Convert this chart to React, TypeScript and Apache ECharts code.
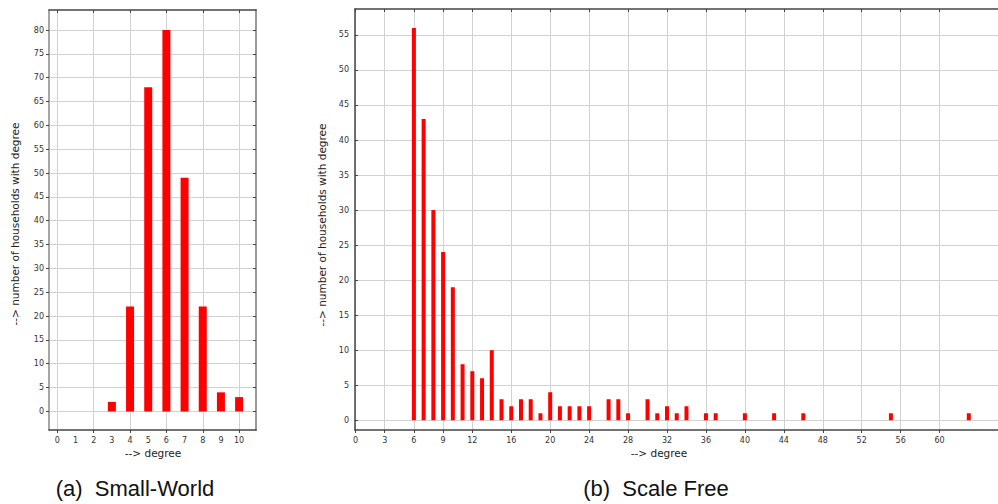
import React, { useEffect, useRef } from "react";
import * as echarts from "echarts";

const swDegrees = [3, 4, 5, 6, 7, 8, 9, 10];
const swCounts = [2, 22, 68, 80, 49, 22, 4, 3];
const sfDegrees = [6, 7, 8, 9, 10, 11, 12, 13, 14, 15, 16, 17, 18, 19, 20, 21, 22, 23, 24, 26, 27, 28, 30, 31, 32, 33, 34, 36, 37, 40, 43, 46, 55, 63];
const sfCounts = [56, 43, 30, 24, 19, 8, 7, 6, 10, 3, 2, 3, 3, 1, 4, 2, 2, 2, 2, 3, 3, 1, 3, 1, 2, 1, 2, 1, 1, 1, 1, 1, 1, 1];

const swXLabels = [0, 1, 2, 3, 4, 5, 6, 7, 8, 9, 10];
const swXTicks = [0, 2, 4, 6, 8, 10];
const swYTicks = [0, 5, 10, 15, 20, 25, 30, 35, 40, 45, 50, 55, 60, 65, 70, 75, 80];
const sfXTicks = [0, 3, 6, 9, 12, 16, 20, 24, 28, 32, 36, 40, 44, 48, 52, 56, 60];
const sfYTicks = [0, 5, 10, 15, 20, 25, 30, 35, 40, 45, 50, 55];

const yName = "--> number of households with degree";
const xName = "--> degree";
const captionA = "(a)  Small-World";
const captionB = "(b)  Scale Free";

const FONT = "DejaVu Sans";
const gridColor = "#d2d2d2";

export default function App() {
  const ref = useRef<HTMLDivElement>(null);
  useEffect(() => {
    if (!ref.current) return;
    const chart = echarts.init(ref.current, undefined, { renderer: "svg" });
    const label = { fontFamily: FONT, fontSize: 8, color: "#333" };
    const option: any = {
      animation: false,
      backgroundColor: "#fff",
      grid: [
        { left: 49, top: 10, width: 207, height: 420 },
        { left: 355, top: 9, width: 643, height: 421 },
      ],
      xAxis: [
        {
          type: "value", gridIndex: 0, min: -0.46, max: 10.93, position: "bottom",
          axisLine: { show: true, onZero: false, lineStyle: { color: "#444", width: 1.5 } },
          axisTick: { show: true, customValues: swXTicks, length: 3, lineStyle: { color: "#444" } },
          axisLabel: { ...label, customValues: swXLabels, margin: 6 },
          splitLine: { show: true, lineStyle: { color: gridColor, width: 1 } },
        },
        {
          type: "value", gridIndex: 0, min: -0.46, max: 10.93, position: "top",
          axisLine: { show: true, onZero: false, lineStyle: { color: "#444", width: 1.5 } },
          axisTick: { show: true, inside: true, customValues: swXTicks, length: 3, lineStyle: { color: "#444" } },
          axisLabel: { show: false },
          splitLine: { show: false },
        },
        {
          type: "value", gridIndex: 1, min: -0.05, max: 66, position: "bottom",
          axisLine: { show: true, onZero: false, lineStyle: { color: "#444", width: 1.5 } },
          axisTick: { show: true, customValues: sfXTicks, length: 3, lineStyle: { color: "#444" } },
          axisLabel: { ...label, customValues: sfXTicks, margin: 6 },
          splitLine: { show: true, lineStyle: { color: gridColor, width: 1 } },
        },
        {
          type: "value", gridIndex: 1, min: -0.05, max: 66, position: "top",
          axisLine: { show: true, onZero: false, lineStyle: { color: "#444", width: 1.5 } },
          axisTick: { show: true, inside: true, customValues: sfXTicks, length: 3, lineStyle: { color: "#444" } },
          axisLabel: { show: false },
          splitLine: { show: false },
        },
      ],
      yAxis: [
        {
          type: "value", gridIndex: 0, min: -3.9, max: 84.2, position: "left",
          axisLine: { show: true, onZero: false, lineStyle: { color: "#888", width: 1.5 } },
          axisTick: { show: true, customValues: swYTicks, length: 3, lineStyle: { color: "#444" } },
          axisLabel: { ...label, customValues: swYTicks, margin: 5 },
          splitLine: { show: true, lineStyle: { color: gridColor, width: 1 } },
        },
        {
          type: "value", gridIndex: 0, min: -3.9, max: 84.2, position: "right",
          axisLine: { show: true, onZero: false, lineStyle: { color: "#999", width: 2 } },
          axisTick: { show: true, inside: true, customValues: swYTicks, length: 3, lineStyle: { color: "#444" } },
          axisLabel: { show: false },
          splitLine: { show: false },
        },
        {
          type: "value", gridIndex: 1, min: -1.39, max: 58.7, position: "left",
          axisLine: { show: true, onZero: false, lineStyle: { color: "#444", width: 1.5 } },
          axisTick: { show: true, inside: true, customValues: sfYTicks, length: 3, lineStyle: { color: "#444" } },
          axisLabel: { ...label, customValues: sfYTicks, margin: 6 },
          splitLine: { show: true, lineStyle: { color: gridColor, width: 1 } },
        },
      ],
      series: [
        {
          type: "bar", xAxisIndex: 0, yAxisIndex: 0, barWidth: 8,
          itemStyle: { color: "#ff0000" },
          data: swDegrees.map((d, i) => [d, swCounts[i]]),
        },
        {
          type: "bar", xAxisIndex: 2, yAxisIndex: 2, barWidth: 4,
          itemStyle: { color: "#ff0000" },
          data: sfDegrees.map((d, i) => [d, sfCounts[i]]),
        },
      ],
      graphic: [
        { type: "text", x: 15, y: 224, rotation: Math.PI / 2, style: { text: yName, fontFamily: FONT, fontSize: 10.5, fill: "#222", align: "center", verticalAlign: "middle" } },
        { type: "text", x: 322, y: 225, rotation: Math.PI / 2, style: { text: yName, fontFamily: FONT, fontSize: 10.5, fill: "#222", align: "center", verticalAlign: "middle" } },
        { type: "text", x: 153, y: 453, style: { text: xName, fontFamily: FONT, fontSize: 10.5, fill: "#222", align: "center", verticalAlign: "middle" } },
        { type: "text", x: 659, y: 453, style: { text: xName, fontFamily: FONT, fontSize: 10.5, fill: "#222", align: "center", verticalAlign: "middle" } },
        { type: "text", x: 135, y: 488, style: { text: captionA, fontFamily: "Liberation Sans", fontSize: 22, fill: "#111", align: "center", verticalAlign: "middle" } },
        { type: "text", x: 656, y: 488, style: { text: captionB, fontFamily: "Liberation Sans", fontSize: 22, fill: "#111", align: "center", verticalAlign: "middle" } },
      ],
    };
    chart.setOption(option);
    return () => chart.dispose();
  }, []);
  return <div ref={ref} style={{ position: "fixed", left: 0, top: 0, width: 998, height: 504 }} />;
}
